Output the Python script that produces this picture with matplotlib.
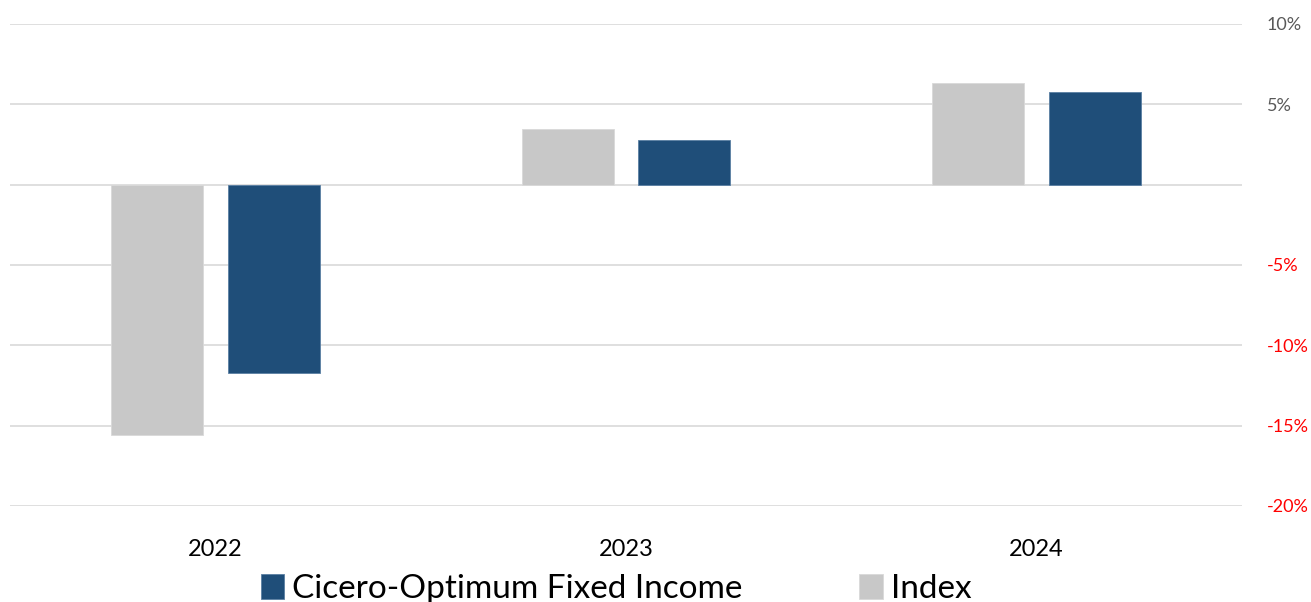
import numpy as np
import matplotlib.pyplot as plt
from matplotlib.ticker import FuncFormatter

years = ["2022", "2023", "2024"]
fund = [-11.7, 2.8, 5.75]
index = [-15.6, 3.45, 6.3]
fund_label = "Cicero-Optimum Fixed Income"
index_label = "Index"

plt.rcParams['font.family'] = ['Lato', 'DejaVu Sans']

fig = plt.figure(figsize=(13.11, 6.02), dpi=100)
ax = fig.add_axes([10/1311, 1 - 506/602, 1232/1311, 482/602])

x = np.arange(len(years))
w = 0.224
off = 0.142
ax.bar(x + off, fund, w, color="#1f4e79", edgecolor="#5a7fa3", linewidth=0.6, label=fund_label, zorder=3)
ax.bar(x - off, index, w, color="#c8c8c8", edgecolor="#d9d9d9", linewidth=0.6, label=index_label, zorder=3)

ax.set_xlim(-0.5, 2.5)
ax.set_ylim(-20, 10)
ax.set_yticks(np.arange(-20, 11, 5))
ax.yaxis.tick_right()
ax.yaxis.set_major_formatter(FuncFormatter(lambda v, p: "" if v == 0 else f"{v:.0f}%"))
ax.grid(axis="y", color="#d9d9d9", linewidth=1.2, zorder=0)
ax.tick_params(axis="y", length=0, pad=18, labelsize=13)
for lab in ax.get_yticklabels():
    lab.set_horizontalalignment("left")
for lab, v in zip(ax.get_yticklabels(), ax.get_yticks()):
    lab.set_color("#ff0000" if v < 0 else "#595959")

ax.set_xticks(x)
ax.set_xticklabels(years, fontsize=17)
ax.tick_params(axis="x", length=0, pad=24)
for s in ax.spines.values():
    s.set_visible(False)

h, l = ax.get_legend_handles_labels()
fig.legend(h, l, loc="center", bbox_to_anchor=(0.47, 0.022), ncol=2, frameon=False,
           fontsize=24, handlelength=0.7, handleheight=0.8, handletextpad=0.25, columnspacing=3.5)

fig.savefig("out.png", dpi=100)
